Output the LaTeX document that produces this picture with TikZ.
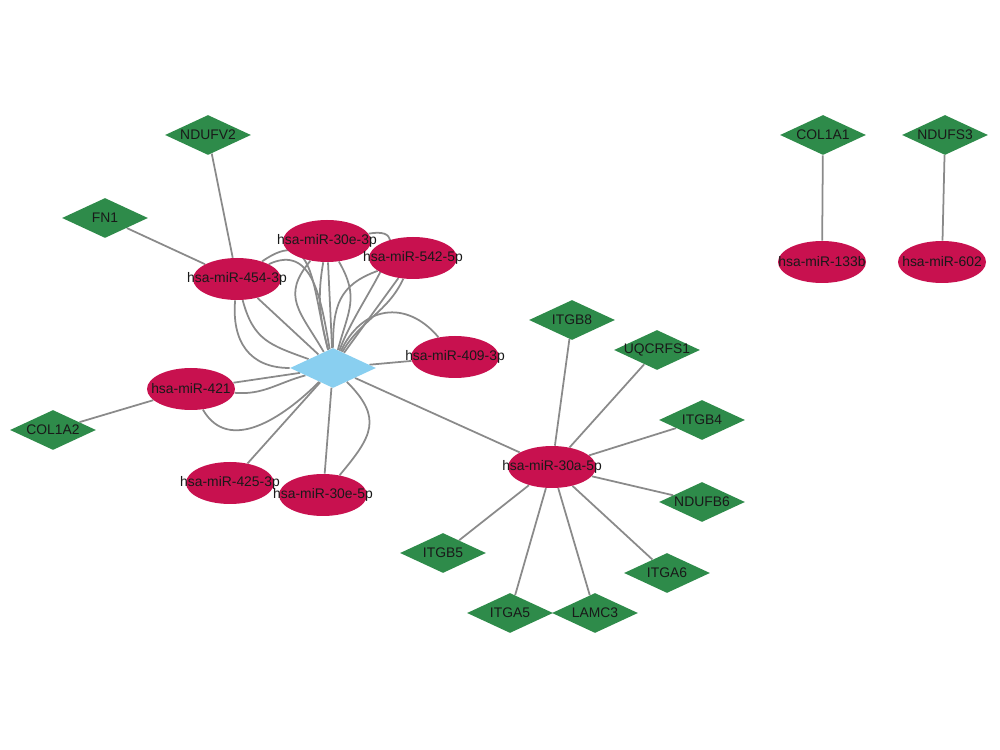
\documentclass[tikz,border=0pt]{standalone}
\usepackage{fontspec}
\setmainfont{Liberation Sans}
\usetikzlibrary{shapes.geometric,backgrounds}
\definecolor{mirred}{RGB}{200,17,79}
\definecolor{genegreen}{RGB}{46,139,74}
\definecolor{hubblue}{RGB}{137,207,240}
\definecolor{linkgray}{RGB}{138,138,138}
\begin{document}
\begin{tikzpicture}[x=0.02cm,y=0.02cm,
  txt/.style={font=\fontsize{7.9}{9}\selectfont,text=black!90,inner sep=0pt},
  mirna/.style={ellipse,fill=mirred,minimum width=1.76cm,minimum height=0.84cm,inner sep=0pt,label={[txt]center:#1}},
  gene/.style={diamond,fill=genegreen,minimum width=1.72cm,minimum height=0.8cm,inner sep=0pt,label={[txt]center:#1}},
  hubnode/.style={diamond,fill=hubblue,minimum width=1.72cm,minimum height=0.8cm,inner sep=0pt},
  conn/.style={draw=linkgray,line width=1pt}]
  \useasboundingbox (0,0) rectangle (1000,750);
  \node[hubnode] (hub) at (333,382) {};
  \node[mirna=hsa-miR-30e-3p] (m30e3p) at (327,509) {};
  \node[mirna=hsa-miR-542-5p] (m542) at (413,492) {};
  \node[mirna=hsa-miR-454-3p] (m454) at (237,471) {};
  \node[mirna=hsa-miR-409-3p] (m409) at (455,393) {};
  \node[mirna=hsa-miR-421] (m421) at (191,361) {};
  \node[mirna=hsa-miR-425-3p] (m425) at (230,267) {};
  \node[mirna=hsa-miR-30e-5p] (m30e5p) at (323,255) {};
  \node[mirna=hsa-miR-30a-5p] (m30a) at (552,283) {};
  \node[mirna=hsa-miR-133b] (m133b) at (822,488) {};
  \node[mirna=hsa-miR-602] (m602) at (942,488) {};
  \node[gene=NDUFV2] (ndufv2) at (208,615) {};
  \node[gene=FN1] (fn1) at (105,532) {};
  \node[gene=COL1A2] (col1a2) at (53,320) {};
  \node[gene=COL1A1] (col1a1) at (823,615) {};
  \node[gene=NDUFS3] (ndufs3) at (945,615) {};
  \node[gene=ITGB8] (itgb8) at (572,430) {};
  \node[gene=UQCRFS1] (uqcrfs1) at (657,400) {};
  \node[gene=ITGB4] (itgb4) at (702,330) {};
  \node[gene=NDUFB6] (ndufb6) at (702,248) {};
  \node[gene=ITGB5] (itgb5) at (443,197) {};
  \node[gene=ITGA6] (itga6) at (667,177) {};
  \node[gene=ITGA5] (itga5) at (510,137) {};
  \node[gene=LAMC3] (lamc3) at (595,137) {};
  \begin{scope}[on background layer]
    % aristas rectas
    \draw[conn] (hub) -- (m454) (hub) -- (m30e3p) (hub) -- (m542) (hub) -- (m409)
      (hub) -- (m421) (hub) -- (m425) (hub) -- (m30e5p) (hub) -- (m30a);
    \draw[conn] (fn1) -- (m454) (ndufv2) -- (m454) (col1a2) -- (m421)
      (col1a1) -- (m133b) (ndufs3) -- (m602);
    \draw[conn] (m30a) -- (itgb8) (m30a) -- (uqcrfs1) (m30a) -- (itgb4) (m30a) -- (ndufb6)
      (m30a) -- (itga6) (m30a) -- (lamc3) (m30a) -- (itga5) (m30a) -- (itgb5);
    % aristas multiples, dibujadas curvas
    \draw[conn] (m454) to[out=-95,in=180,looseness=1.2] (hub);
    \draw[conn] (m454) to[out=-75,in=160,looseness=1.2] (hub);
    \draw[conn] (m454) to[out=25,in=100,looseness=1.2] (hub);
    \draw[conn] (m454) to[out=35,in=105,looseness=1.5] (hub);
    \draw[conn] (m30e3p) to[out=-130,in=120,looseness=1.3] (hub);
    \draw[conn] (m30e3p) to[out=-100,in=105] (hub);
    \draw[conn] (m30e3p) to[out=-60,in=75,looseness=1.2] (hub);
    \draw[conn] (m30e3p) to[out=10,in=70,looseness=1.2] (hub);
    \draw[conn] (m542) to[out=200,in=90,looseness=1.2] (hub);
    \draw[conn] (m542) to[out=-115,in=60] (hub);
    \draw[conn] (m409) to[out=130,in=65,looseness=1.3] (hub);
    \draw[conn] (m421) to[out=-5,in=195] (hub);
    \draw[conn] (m421) to[out=-60,in=225,looseness=1.1] (hub);
    \draw[conn] (m30e5p) to[out=50,in=-45,looseness=1.4] (hub);
  \end{scope}
\end{tikzpicture}
\end{document}
